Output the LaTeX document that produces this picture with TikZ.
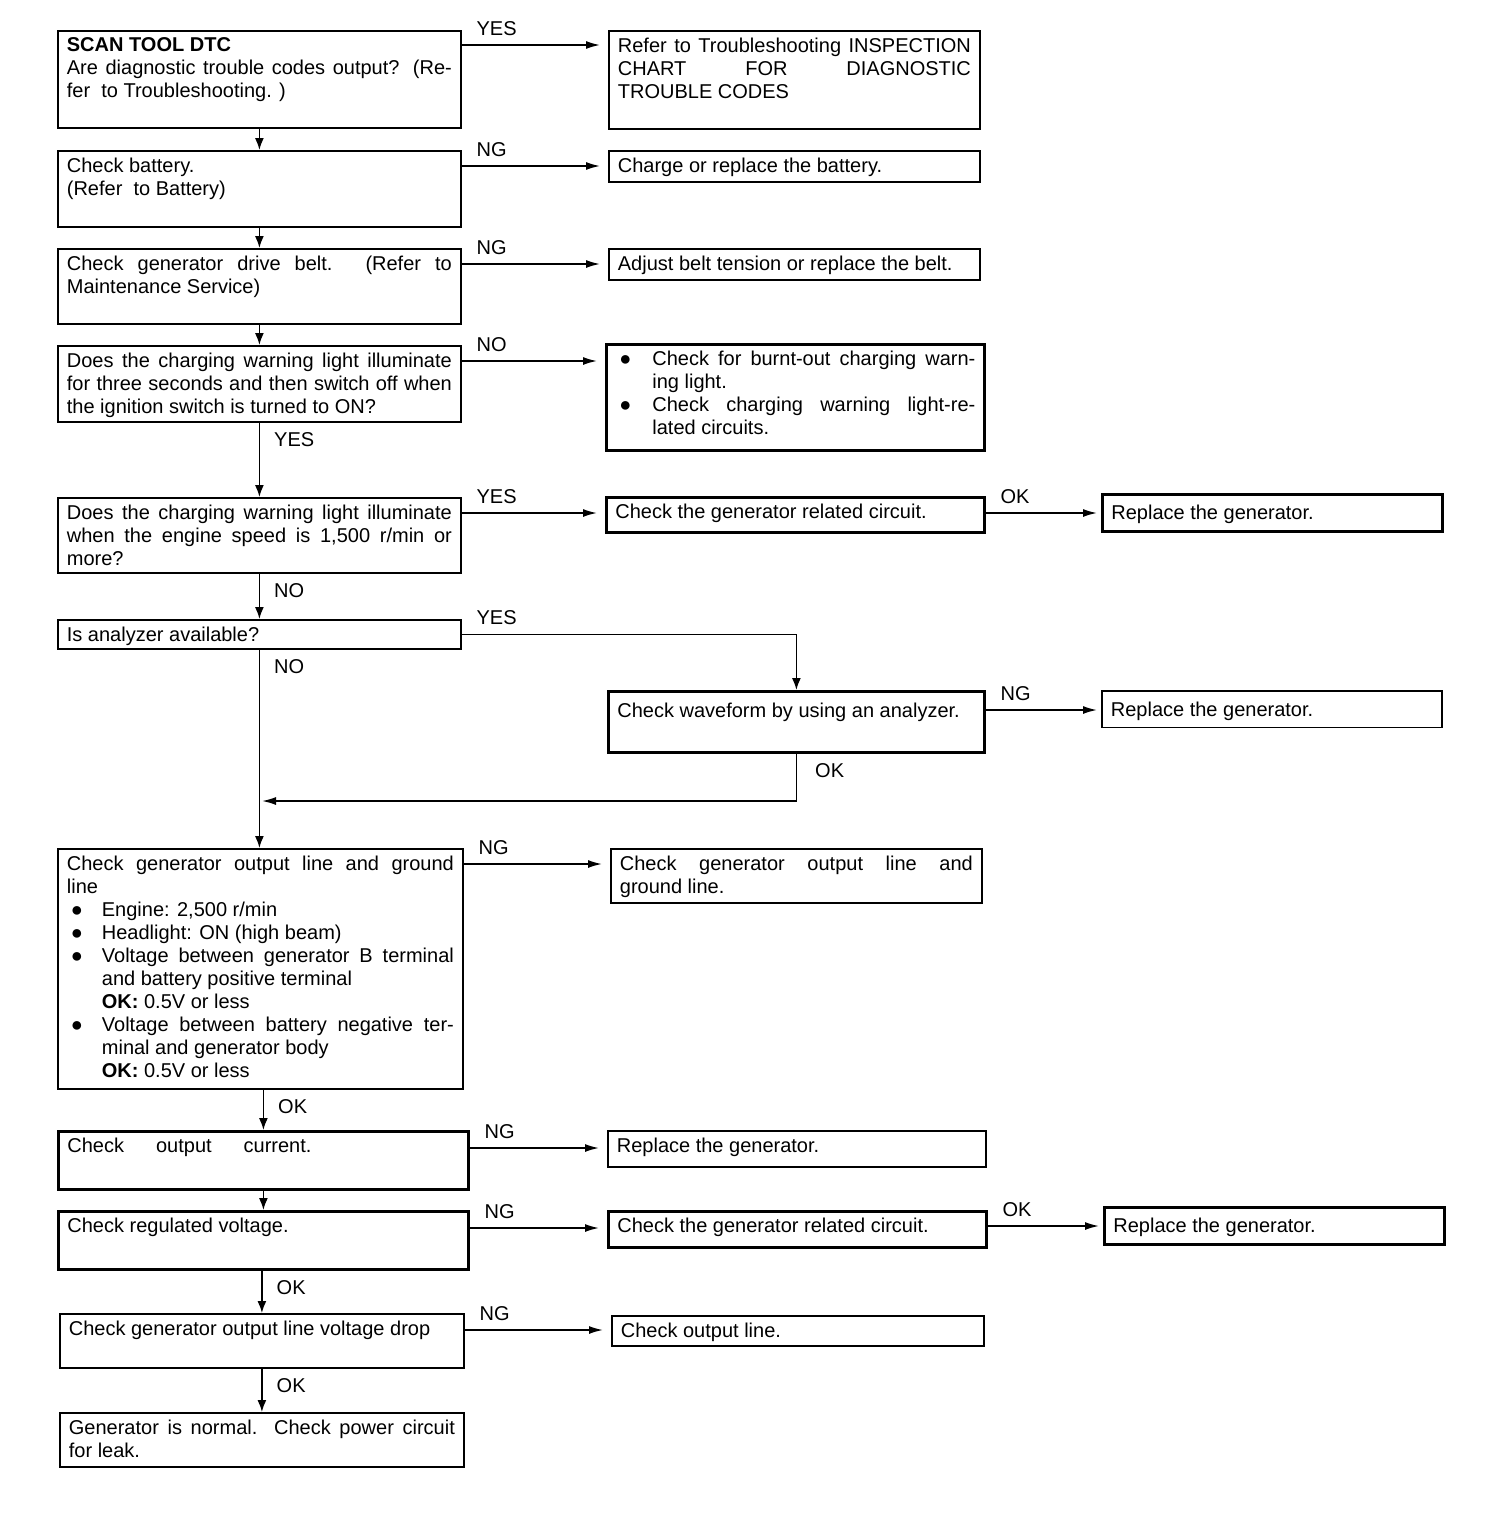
\documentclass[tikz,border=0pt]{standalone}
\usepackage{fontspec}
\setmainfont{Liberation Sans}
\usetikzlibrary{arrows.meta, positioning}

\newcommand{\boxtext}[3]{\parbox[t][#2][t]{#1}{#3}}
\newcommand{\itm}[1][17.5pt]{\par\hangindent=#1\hangafter=1\noindent\makebox[#1][l]{\hspace{2pt}{\fontsize{10}{10}\selectfont ●}}\ignorespaces}

\begin{document}
\begin{tikzpicture}[
        x=0.5pt, y=-0.5pt,
        font=\fontsize{10}{11.5}\selectfont,
        box/.style={draw, line width=0.9pt, anchor=north west, inner xsep=4.5pt, inner ysep=3.5pt},
        heavy/.style={box, line width=1.4pt},
        arrow/.style={-{Latex[length=7pt, width=4pt]}, line width=0.8pt, shorten >=4pt},
        down/.style={-{Latex[length=6pt, width=4.5pt]}, line width=0.8pt},
        lbl/.style={anchor=base west, inner sep=0pt, xshift=7pt, yshift=5pt},
        vlbl/.style={anchor=base west, inner sep=0pt, xshift=7pt, yshift=-12pt}
    ]
    \useasboundingbox (0,0) rectangle (1504,1516);

    % Main column
    \node[box] (scan) at (57,30) {\boxtext{192.5pt}{41.5pt}{\textbf{SCAN TOOL DTC}\\ Are diagnostic trouble codes output? (Re-\linebreak fer\ \ to Troubleshooting. )}};
    \node[box] (batt) at (57,150) {\boxtext{192.5pt}{31pt}{Check battery.\\ (Refer\ \ to Battery)}};
    \node[box] (belt) at (57,248) {\boxtext{192.5pt}{30.5pt}{Check generator drive belt. (Refer to\linebreak Maintenance Service)}};
    \node[box] (lamp) at (57,345) {\boxtext{192.5pt}{31pt}{Does the charging warning light illuminate\linebreak for three seconds and then switch off when\linebreak the ignition switch is turned to ON?}};
    \node[box] (speed) at (57,497) {\boxtext{192.5pt}{30.5pt}{Does the charging warning light illuminate\linebreak when the engine speed is 1,500 r/min or\linebreak more?}};
    \node[box] (avail) at (57,619) {\boxtext{192.5pt}{7.5pt}{Is analyzer available?}};
    \node[box] (gnd) at (57,848) {\boxtext{193.5pt}{113pt}{Check generator output line and ground\linebreak line
        \itm Engine: 2,500 r/min
        \itm Headlight: ON (high beam)
        \itm Voltage between generator B terminal\linebreak and battery positive terminal\\ \textbf{OK:} 0.5V or less
        \itm Voltage between battery negative ter-\linebreak minal and generator body\\ \textbf{OK:} 0.5V or less}};
    \node[heavy] (curr) at (57,1130) {\boxtext{196pt}{22pt}{Check\hspace{1.6em}output\hspace{1.6em}current.}};
    \node[heavy] (reg) at (57,1210) {\boxtext{196pt}{22pt}{Check regulated voltage.}};
    \node[box] (drop) at (59,1313) {\boxtext{193pt}{20pt}{Check generator output line voltage drop}};
    \node[box] (normal) at (59,1412) {\boxtext{193pt}{20pt}{Generator is normal. Check power circuit\linebreak for leak.}};

    % Result column
    \node[box] (chart) at (608,30) {\boxtext{176.5pt}{42pt}{Refer to Troubleshooting INSPECTION\linebreak CHART FOR DIAGNOSTIC\linebreak TROUBLE CODES}};
    \node[box] (charge) at (608,150) {\boxtext{176.5pt}{8.5pt}{Charge or replace the battery.}};
    \node[box] (adjust) at (608,248) {\boxtext{176.5pt}{8.5pt}{Adjust belt tension or replace the belt.}};
    \node[heavy] (bulb) at (605,343) {\boxtext{180pt}{46pt}{\itm[18.5pt] Check for burnt-out charging warn-\linebreak ing light.\itm[18.5pt] Check charging warning light-re-\linebreak lated circuits.}};
    \node[heavy] (circ) at (605,496) {\boxtext{180pt}{10.5pt}{Check the generator related circuit.}};
    \node[heavy, inner ysep=6pt] (wave) at (607,690) {\boxtext{179pt}{18.5pt}{Check waveform by using an analyzer.}};
    \node[box] (gndline) at (610,848) {\boxtext{176.5pt}{20pt}{Check generator output line and\linebreak ground line.}};
    \node[box] (repl) at (607,1130) {\boxtext{180pt}{11pt}{Replace the generator.}};
    \node[heavy] (circtwo) at (607,1210) {\boxtext{180pt}{11pt}{Check the generator related circuit.}};
    \node[box] (outline) at (611,1315) {\boxtext{177pt}{8pt}{Check output line.}};

    % Far right
    \node[heavy, inner ysep=5.5pt] (genA) at (1101,493) {\boxtext{161pt}{7.5pt}{Replace the generator.}};
    \node[box, inner ysep=5.5pt] (genB) at (1101,690) {\boxtext{161pt}{7pt}{Replace the generator.}};
    \node[heavy, inner ysep=5.5pt] (genC) at (1103,1206) {\boxtext{161pt}{7.5pt}{Replace the generator.}};

    \coordinate (join) at (259,801);

    % Downward flow
    \draw[down] (scan) -- (batt);
    \draw[down] (batt) -- (belt);
    \draw[down] (belt) -- (lamp);
    \draw[down] (lamp.south) -- (speed.north) node[vlbl, pos=0] {YES};
    \draw[down] (speed.south) -- (avail.north) node[vlbl, pos=0] {NO};
    \draw[down] (avail.south) -- (avail.south |- gnd.north) node[vlbl, pos=0] {NO};
    \draw[down] (gnd.south -| curr.north) -- (curr.north) node[vlbl, pos=0] {OK};
    \draw[down] (curr.south) -- (reg.north);
    \draw[down] (reg.south -| drop.north) -- (drop.north) node[vlbl, pos=0] {OK};
    \draw[down] (drop.south) -- (normal.north) node[vlbl, pos=0] {OK};

    % Analyzer branch
    \draw[down] (avail.east) -| (wave.north) node[lbl, pos=0] {YES};
    \draw[arrow, shorten >=1.5pt] (wave.south) |- (join) node[vlbl, pos=0, xshift=2pt] {OK};

    % Side branches
    \draw[arrow] ([yshift=-7.5pt]scan.north east) -- ([yshift=-7.5pt]scan.north east -| chart.west) node[lbl, pos=0] {YES};
    \draw[arrow] ([yshift=-8pt]batt.north east) -- ([yshift=-8pt]batt.north east -| charge.west) node[lbl, pos=0] {NG};
    \draw[arrow] ([yshift=-8pt]belt.north east) -- ([yshift=-8pt]belt.north east -| adjust.west) node[lbl, pos=0] {NG};
    \draw[arrow] ([yshift=-8pt]lamp.north east) -- ([yshift=-8pt]lamp.north east -| bulb.west) node[lbl, pos=0] {NO};
    \draw[arrow] ([yshift=-8pt]speed.north east) -- ([yshift=-8pt]speed.north east -| circ.west) node[lbl, pos=0] {YES};
    \draw[arrow] ([yshift=-8pt]gnd.north east) -- ([yshift=-8pt]gnd.north east -| gndline.west) node[lbl, pos=0] {NG};
    \draw[arrow] ([yshift=-9pt]curr.north east) -- ([yshift=-9pt]curr.north east -| repl.west) node[lbl, pos=0] {NG};
    \draw[arrow] ([yshift=-9pt]reg.north east) -- ([yshift=-9pt]reg.north east -| circtwo.west) node[lbl, pos=0] {NG};
    \draw[arrow] ([yshift=-8.5pt]drop.north east) -- ([yshift=-8.5pt]drop.north east -| outline.west) node[lbl, pos=0] {NG};
    \draw[arrow, shorten >=2pt] ([yshift=-8.5pt]circ.north east) -- ([yshift=-8.5pt]circ.north east -| genA.west) node[lbl, pos=0] {OK};
    \draw[arrow, shorten >=2pt] ([yshift=-10pt]wave.north east) -- ([yshift=-10pt]wave.north east -| genB.west) node[lbl, pos=0] {NG};
    \draw[arrow, shorten >=2pt] ([yshift=-8pt]circtwo.north east) -- ([yshift=-8pt]circtwo.north east -| genC.west) node[lbl, pos=0] {OK};

\end{tikzpicture}
\end{document}
